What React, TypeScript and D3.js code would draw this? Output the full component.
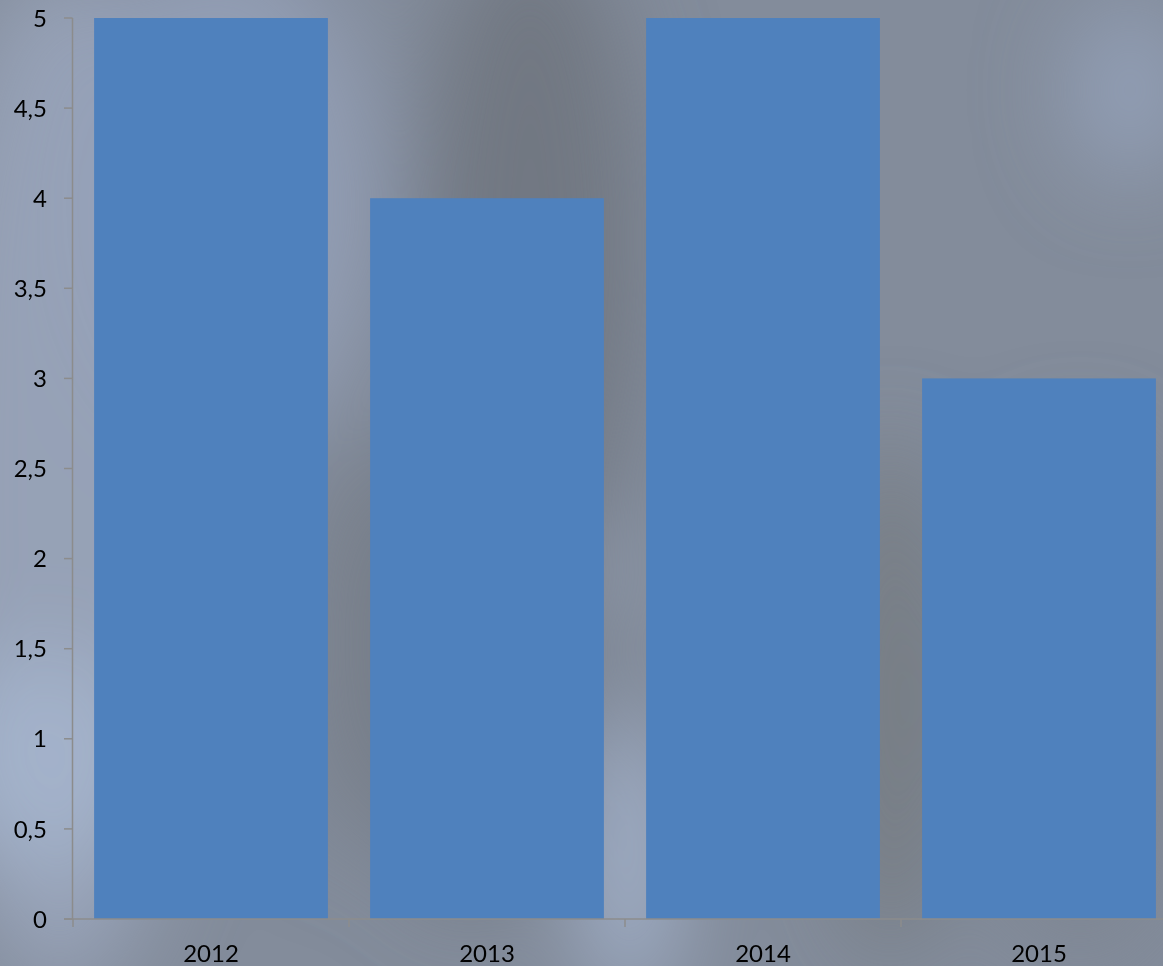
import React from 'react';
import * as d3 from 'd3';

const years = ['2012', '2013', '2014', '2015'];
const values = [5, 4, 5, 3];
const yTicks = [0, 0.5, 1, 1.5, 2, 2.5, 3, 3.5, 4, 4.5, 5];

const W = 1163;
const H = 966;

// blurred backdrop patches, roughly like the photo behind the chart
const patches = [
  { cx: 60, cy: 480, rx: 140, ry: 520, fill: '#9aa6bb' },
  { cx: 40, cy: 760, rx: 120, ry: 110, fill: '#a6b5ce' },
  { cx: 220, cy: 200, rx: 160, ry: 260, fill: '#95a1b8' },
  { cx: 530, cy: 240, rx: 110, ry: 320, fill: '#6e747e' },
  { cx: 470, cy: 650, rx: 110, ry: 260, fill: '#737984' },
  { cx: 630, cy: 860, rx: 40, ry: 150, fill: '#abbcd8' },
  { cx: 615, cy: 575, rx: 30, ry: 18, fill: '#a6b2c8' },
  { cx: 890, cy: 700, rx: 60, ry: 260, fill: '#74797f' },
  { cx: 1130, cy: 90, rx: 60, ry: 90, fill: '#95a2bb' },
  { cx: 1080, cy: 700, rx: 110, ry: 260, fill: '#7e8592' },
  { cx: 340, cy: 640, rx: 30, ry: 220, fill: '#787f8a' },
];

export default function App() {
  const margin = { left: 73, top: 18, bottom: 919 };

  const x = d3.scaleBand<string>()
    .domain(years)
    .range([margin.left, margin.left + 276 * 4])
    .paddingInner(0.153)
    .paddingOuter(0.0765);

  const y = d3.scaleLinear()
    .domain([0, 5])
    .range([margin.bottom, margin.top]);

  const font = 'Lato, "Open Sans", sans-serif';
  const axisColor = '#8c8c8c';
  const bandTicks = years.map((d) => x(d)! - (x.step() - x.bandwidth()) / 2);

  return (
    <svg width={W} height={H} style={{ position: 'absolute', left: 0, top: 0 }}>
      <defs>
        <filter id="blur" x="-50%" y="-50%" width="200%" height="200%">
          <feGaussianBlur stdDeviation="45" />
        </filter>
      </defs>
      <rect x={0} y={0} width={W} height={H} fill="#838c9b" />
      <g filter="url(#blur)">
        {patches.map((p, i) => (
          <ellipse key={i} cx={p.cx} cy={p.cy} rx={p.rx} ry={p.ry} fill={p.fill} opacity={0.85} />
        ))}
      </g>

      {years.map((d, i) => (
        <rect
          key={d}
          x={x(d)}
          y={y(values[i])}
          width={x.bandwidth()}
          height={y(0) - y(values[i])}
          fill="#4f81bd"
        />
      ))}

      {/* y axis */}
      <line x1={72.5} x2={72.5} y1={y(5)} y2={y(0)} stroke={axisColor} strokeWidth={1.5} />
      {yTicks.map((t) => (
        <g key={t}>
          <line x1={64} x2={72.5} y1={y(t)} y2={y(t)} stroke={axisColor} strokeWidth={1.5} />
          <text
            x={47}
            y={y(t)}
            dy="0.36em"
            textAnchor="end"
            fontFamily={font}
            fontSize={24}
            fill="#000"
          >
            {String(t).replace('.', ',')}
          </text>
        </g>
      ))}

      {/* x axis */}
      <line x1={64} x2={W} y1={y(0)} y2={y(0)} stroke={axisColor} strokeWidth={1.5} />
      {bandTicks.map((bx, i) => (
        <line key={i} x1={bx} x2={bx} y1={y(0)} y2={y(0) + 8} stroke={axisColor} strokeWidth={1.5} />
      ))}
      {years.map((d) => (
        <text
          key={d}
          x={x(d)! + x.bandwidth() / 2}
          y={962}
          textAnchor="middle"
          fontFamily={font}
          fontSize={24}
          fill="#000"
        >
          {d}
        </text>
      ))}
    </svg>
  );
}
